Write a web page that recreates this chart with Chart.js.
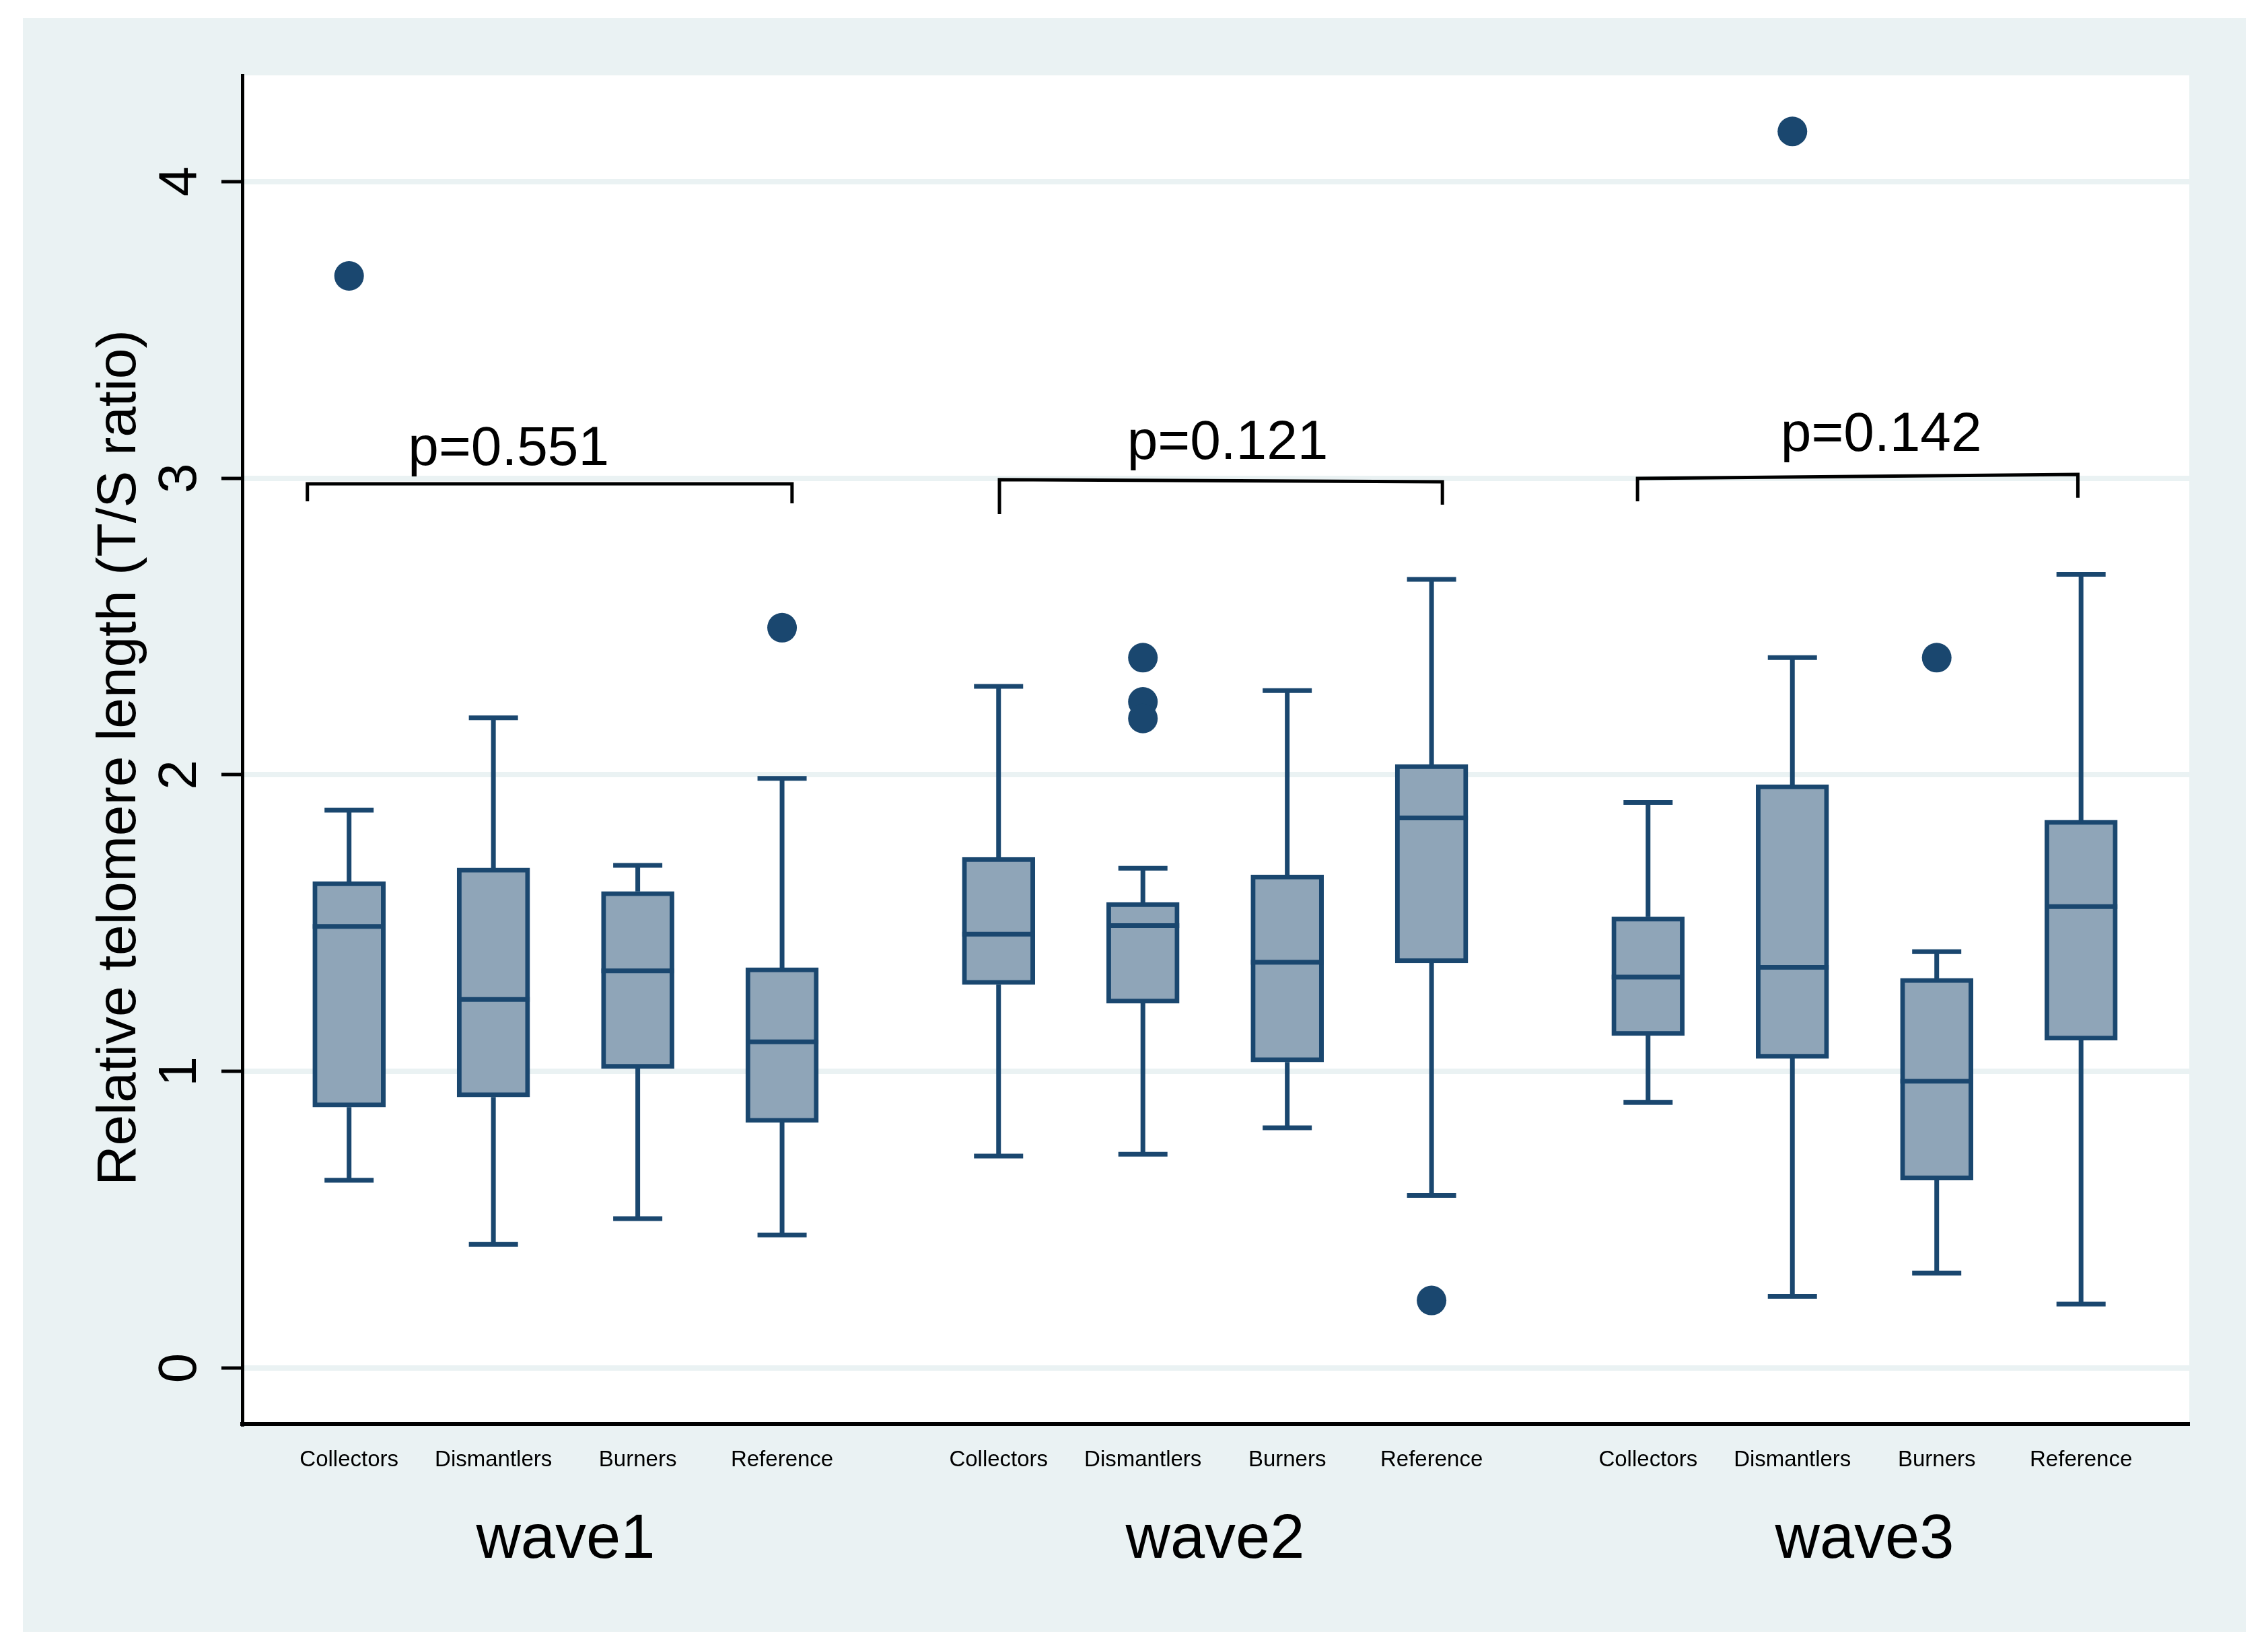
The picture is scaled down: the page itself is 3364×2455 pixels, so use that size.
<!DOCTYPE html>
<html>
<head>
<meta charset="utf-8">
<script src="https://cdn.jsdelivr.net/npm/chart.js@4.4.1/dist/chart.umd.min.js"></script>
<style>
html,body{margin:0;padding:0;background:#ffffff;}
#wrap{width:3364px;height:2455px;}
canvas{display:block;}
</style>
</head>
<body>
<div id="wrap"><canvas id="c" width="3364" height="2455"></canvas></div>
<script>
// ---------------- DATA ----------------
const waves = ['wave1', 'wave2', 'wave3'];
const groups = ['Collectors', 'Dismantlers', 'Burners', 'Reference'];

// box-plot statistics, order: wave1 (4 groups), wave2 (4 groups), wave3 (4 groups)
const lowWhisker  = [0.633, 0.417, 0.504, 0.449,   0.715, 0.721, 0.810, 0.582,   0.896, 0.242, 0.320, 0.216];
const q1          = [0.880, 0.914, 1.010, 0.828,   1.293, 1.230, 1.032, 1.366,   1.121, 1.044, 0.634, 1.105];
const median      = [1.489, 1.243, 1.339, 1.100,   1.463, 1.492, 1.368, 1.855,   1.318, 1.351, 0.967, 1.556];
const q3          = [1.640, 1.686, 1.607, 1.350,   1.722, 1.570, 1.663, 2.035,   1.521, 1.967, 1.314, 1.847];
const highWhisker = [1.881, 2.192, 1.695, 1.988,   2.298, 1.685, 2.284, 2.659,   1.907, 2.395, 1.404, 2.676];
const outliers    = [[3.682], [], [], [2.496],     [], [2.395, 2.246, 2.190], [], [0.228],     [], [4.169], [2.395], []];

// p-values and comparison brackets (data units)
const pLabels          = ['p=0.551', 'p=0.121', 'p=0.142'];
const pLabelX          = [2.105, 7.087, 11.615];
const pLabelY          = [3.045, 3.065, 3.092];
const bracketLeftX     = [0.711, 5.506, 9.927];
const bracketRightX    = [4.069, 8.575, 12.978];
const bracketTopLeftY  = [2.981, 2.995, 2.999];
const bracketTopRightY = [2.981, 2.988, 3.013];
const bracketLeftTipY  = [2.922, 2.879, 2.922];
const bracketRightTipY = [2.915, 2.911, 2.934];

const yTicks = [0, 1, 2, 3, 4];
const yTitle = 'Relative telomere length (T/S ratio)';

// ---------------- DERIVED ----------------
const GROUP_GAP = 1.5;
const catX = [];
const catLabel = [];
waves.forEach((w, wi) => groups.forEach((g, gi) => {
  catX.push(1 + wi * (groups.length - 1 + GROUP_GAP) + gi);
  catLabel.push(g);
}));
const waveX = waves.map((w, wi) => {
  const xs = catX.slice(wi * groups.length, (wi + 1) * groups.length);
  return (xs[0] + xs[xs.length - 1]) / 2;
});

const NAVY = '#1a476f';
const BOXFILL = '#8fa5b8';
const BG = '#eaf2f3';
const FONT = "'Liberation Sans', Arial, Helvetica, sans-serif";

const boxData = catX.map((x, i) => ({x: x, y: [q1[i], q3[i]]}));
const outlierData = [];
catX.forEach((x, i) => outliers[i].forEach(v => outlierData.push({x: x, y: v})));

const bracketSets = pLabels.map((p, i) => ({
  type: 'line',
  data: [
    {x: bracketLeftX[i], y: bracketLeftTipY[i]},
    {x: bracketLeftX[i], y: bracketTopLeftY[i]},
    {x: bracketRightX[i], y: bracketTopRightY[i]},
    {x: bracketRightX[i], y: bracketRightTipY[i]}
  ],
  borderColor: '#000000',
  borderWidth: 5,
  pointRadius: 0,
  tension: 0,
  fill: false,
  borderJoinStyle: 'miter',
  borderCapStyle: 'butt'
}));

// ---------------- PLUGIN ----------------
const boxPlugin = {
  id: 'boxPlugin',
  beforeDraw(chart) {
    const c = chart.ctx, a = chart.chartArea;
    c.save();
    c.fillStyle = '#ffffff';
    c.fillRect(0, 0, chart.width, chart.height);
    c.fillStyle = BG;
    c.fillRect(34, 27, 3303, 2398);
    c.fillStyle = '#ffffff';
    c.fillRect(a.left, a.top, a.right - a.left, a.bottom - a.top);
    c.restore();
  },
  beforeDatasetsDraw(chart) {
    const c = chart.ctx, xs = chart.scales.x, ys = chart.scales.y;
    c.save();
    c.strokeStyle = NAVY;
    c.lineWidth = 7;
    c.lineCap = 'butt';
    const capHalf = 36.5;
    catX.forEach((x, i) => {
      const px = xs.getPixelForValue(x);
      const pLo = ys.getPixelForValue(lowWhisker[i]);
      const pHi = ys.getPixelForValue(highWhisker[i]);
      const pQ1 = ys.getPixelForValue(q1[i]);
      const pQ3 = ys.getPixelForValue(q3[i]);
      c.beginPath();
      c.moveTo(px, pQ3); c.lineTo(px, pHi);
      c.moveTo(px, pQ1); c.lineTo(px, pLo);
      c.moveTo(px - capHalf, pHi); c.lineTo(px + capHalf, pHi);
      c.moveTo(px - capHalf, pLo); c.lineTo(px + capHalf, pLo);
      c.stroke();
    });
    c.restore();
  },
  afterDatasetsDraw(chart) {
    const c = chart.ctx, xs = chart.scales.x, ys = chart.scales.y;
    c.save();
    c.strokeStyle = NAVY;
    c.lineWidth = 7;
    const half = 54;
    catX.forEach((x, i) => {
      const px = xs.getPixelForValue(x);
      const pm = ys.getPixelForValue(median[i]);
      c.beginPath();
      c.moveTo(px - half, pm); c.lineTo(px + half, pm);
      c.stroke();
    });
    c.restore();
  },
  afterDraw(chart) {
    const c = chart.ctx, xs = chart.scales.x, ys = chart.scales.y;
    c.save();
    c.fillStyle = '#000000';
    // y tick labels (rotated)
    c.font = '80px ' + FONT;
    c.textAlign = 'center';
    c.textBaseline = 'alphabetic';
    yTicks.forEach(t => {
      c.save();
      c.translate(291, ys.getPixelForValue(t));
      c.rotate(-Math.PI / 2);
      c.fillText(String(t), 0, 0);
      c.restore();
    });
    // y title
    c.font = '82px ' + FONT;
    c.save();
    c.translate(201, 1126);
    c.rotate(-Math.PI / 2);
    c.fillText(yTitle, 0, 0);
    c.restore();
    // category labels
    c.font = '33px ' + FONT;
    catX.forEach((x, i) => c.fillText(catLabel[i], xs.getPixelForValue(x), 2179));
    // wave labels
    c.font = '92px ' + FONT;
    waves.forEach((w, i) => c.fillText(w, xs.getPixelForValue(waveX[i]), 2315));
    // p-values
    c.font = '82px ' + FONT;
    pLabels.forEach((p, i) => c.fillText(p, xs.getPixelForValue(pLabelX[i]), ys.getPixelForValue(pLabelY[i])));
    c.restore();
  }
};

// ---------------- CHART ----------------
new Chart(document.getElementById('c').getContext('2d'), {
  type: 'bar',
  data: {
    datasets: [
      {
        type: 'scatter',
        data: outlierData,
        pointRadius: 22,
        pointBackgroundColor: NAVY,
        pointBorderWidth: 0,
        borderColor: NAVY,
        showLine: false
      },
      ...bracketSets,
      {
        type: 'bar',
        data: boxData,
        backgroundColor: BOXFILL,
        borderColor: NAVY,
        borderWidth: 7,
        borderSkipped: false,
        barThickness: 108
      }
    ]
  },
  options: {
    responsive: false,
    devicePixelRatio: 1,
    animation: false,
    events: [],
    layout: {padding: {left: 0, top: 112, right: 111, bottom: 0}},
    plugins: {legend: {display: false}, tooltip: {enabled: false}, title: {display: false}},
    scales: {
      x: {
        type: 'linear',
        position: 'bottom',
        offset: false,
        min: 0.26,
        max: 13.75,
        grid: {display: false, offset: false},
        ticks: {display: false},
        border: {display: true, color: '#000000', width: 6},
        afterFit: s => { s.height = 339; }
      },
      y: {
        type: 'linear',
        position: 'left',
        min: -0.188,
        max: 4.358,
        ticks: {display: false, stepSize: 1},
        afterBuildTicks: s => { s.ticks = yTicks.map(v => ({value: v})); },
        grid: {
          display: true,
          color: BG,
          lineWidth: 8,
          drawTicks: true,
          tickLength: 31,
          tickColor: '#000000',
          tickWidth: 5
        },
        border: {display: true, color: '#000000', width: 5},
        afterFit: s => { s.width = 360; }
      }
    }
  },
  plugins: [boxPlugin]
});
</script>
</body>
</html>
